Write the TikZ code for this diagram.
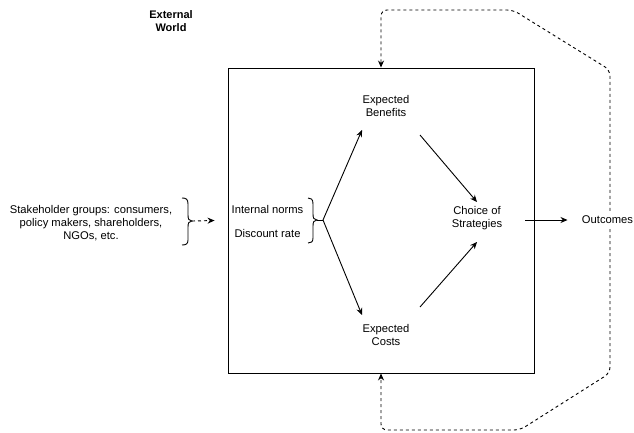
\documentclass[tikz,border=0pt]{standalone}
\usepackage{fontspec}
\setmainfont{Liberation Sans}
\usetikzlibrary{arrows.meta}
\begin{document}
\begin{tikzpicture}[x=1pt,y=-1pt,
  lbl/.style={font=\fontsize{11.2}{13}\selectfont, align=center, inner sep=0pt},
  arr/.style={-{Stealth[length=7pt,width=6pt]}, line width=0.9pt},
  dsh/.style={dash pattern=on 3pt off 3pt},
  ln/.style={line width=0.9pt}]
\useasboundingbox (0,0) rectangle (634,433);
\node[draw, ln, minimum width=306pt, minimum height=305pt, inner sep=0pt] (box) at (381,220.5) {};
\node[lbl, font=\bfseries\fontsize{11}{13}\selectfont] (ext) at (171,21) {External\\World};
\node[lbl] (stk) at (91,223) {Stakeholder groups: consumers,\\policy makers, shareholders,\\NGOs, etc.};
\node[lbl] (norms) at (267.5,209) {Internal norms};
\node[lbl] (disc) at (267.5,233) {Discount rate};
\node[lbl] (ben) at (386,106) {Expected\\Benefits};
\node[lbl] (cost) at (386,335) {Expected\\Costs};
\node[lbl] (choice) at (477,218) {Choice of\\Strategies};
\node[lbl, inner ysep=5pt] (out) at (607.5,220) {Outcomes};
% braces
\draw[ln] (182,198) .. controls (186,198) and (188,199) .. (188,204) -- (188,215)
  .. controls (188,219) and (189,221) .. (192,221) coordinate (lbr)
  .. controls (189,221) and (188,223) .. (188,227) -- (188,240)
  .. controls (188,244) and (186,245) .. (182,245);
\draw[ln] (308,198) .. controls (311,198) and (313,199) .. (313,204) -- (313,214)
  .. controls (313,218) and (314,220) .. (317,220)
  .. controls (314,220) and (313,222) .. (313,226) -- (313,238)
  .. controls (313,242) and (311,243) .. (308,243);
\draw[ln] (317,220) -- (323,220) coordinate (ibr);
% connectors
\draw[arr] (ibr) -- ([shift={(-24,24)}]ben.center);
\draw[arr] (ibr) -- ([shift={(-24,-20)}]cost.center);
\draw[arr] ([shift={(34,29)}]ben.center) -- ([shift={(0,-16)}]choice.center);
\draw[arr] ([shift={(34,-28)}]cost.center) -- ([shift={(0,24)}]choice.center);
\draw[arr] ([shift={(48,2)}]choice.center) -- ([shift={(-40,0)}]out.center);
\draw[arr,dsh] (lbr) -- ([xshift=-13pt]box.west);
\draw[arr,dsh,rounded corners=6pt] ([xshift=2.5pt]out.north) -- (610,70) -- (513,10) -- (381,10) -- (box.north);
\draw[arr,dsh,rounded corners=6pt] ([xshift=2.5pt]out.south) -- (610,373) -- (520,430) -- (381,430) -- (box.south);
\end{tikzpicture}
\end{document}
